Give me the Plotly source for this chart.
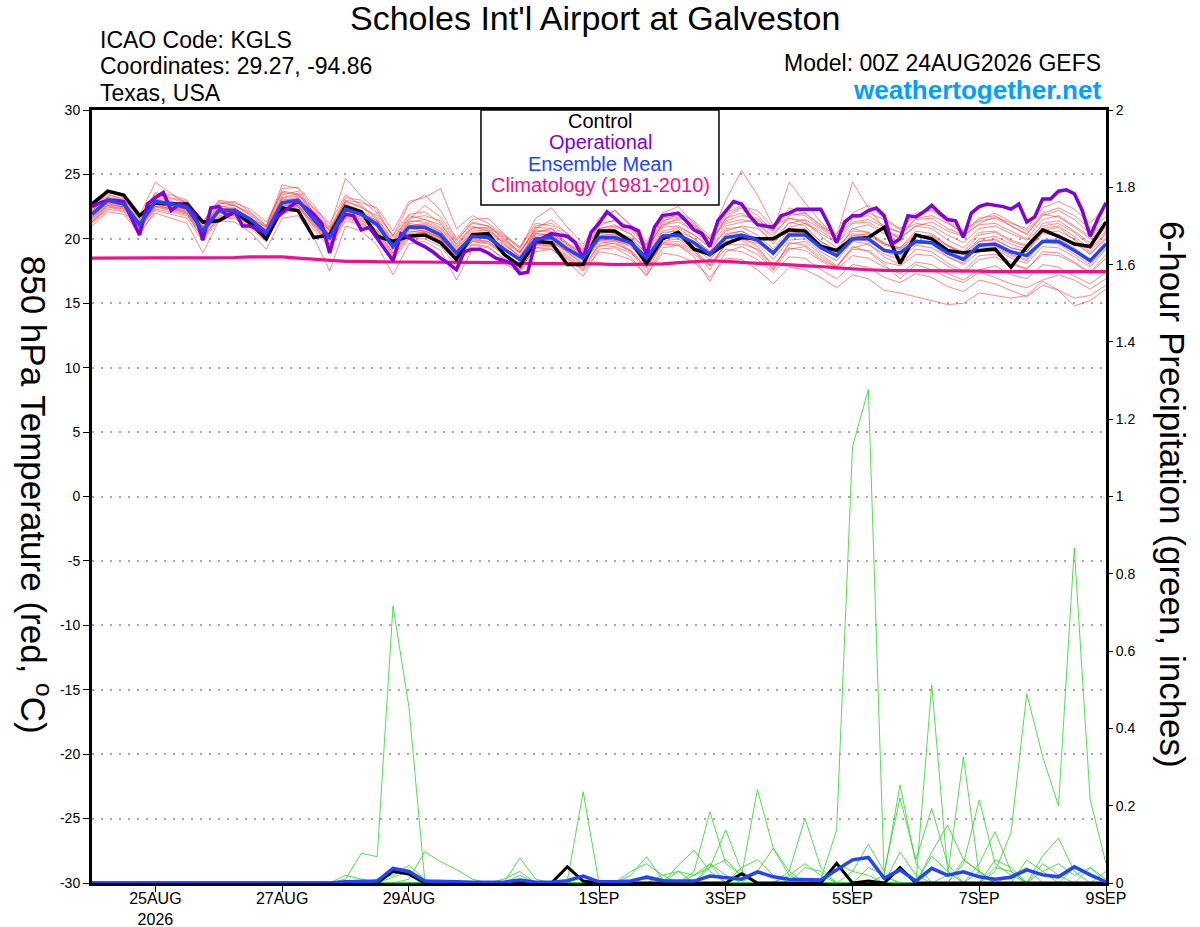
import pandas as pd
import plotly.graph_objects as go

# GEFS run 00Z 24AUG2026, 6-hourly steps (ensemble) and 3-hourly (operational)
steps6 = pd.date_range("2026-08-24 00:00", periods=65, freq="6h")
steps3 = pd.date_range("2026-08-24 00:00", periods=129, freq="3h")

tick_dates = ["2026-08-25", "2026-08-27", "2026-08-29", "2026-09-01",
              "2026-09-03", "2026-09-05", "2026-09-07", "2026-09-09"]
tick_names = ["25AUG<br>2026", "27AUG", "29AUG", "1SEP", "3SEP", "5SEP", "7SEP", "9SEP"]

# 850 hPa temperature (C)
control_t = [22.7, 23.7, 23.4, 21.8, 22.8, 22.7, 22.7, 21.3, 21.4, 22.1, 21.2, 20.0, 22.4,
             22.2, 20.1, 20.3, 22.5, 22.1, 20.2, 19.8, 20.2, 20.3, 19.7, 18.4, 20.3, 20.4,
             18.8, 17.9, 19.8, 19.7, 18.0, 18.0, 20.6, 20.6, 19.8, 18.1, 20.0, 20.5, 19.2,
             18.8, 19.6, 20.1, 20.0, 20.0, 20.7, 20.6, 19.4, 19.1, 20.0, 20.1, 20.9, 18.1,
             20.3, 20.0, 19.1, 18.9, 19.1, 19.2, 17.8, 19.4, 20.7, 20.2, 19.6, 19.4, 21.3]
mean_t = [21.9, 23.0, 22.7, 21.1, 22.9, 22.7, 22.4, 20.6, 22.2, 22.2, 21.5, 20.5, 22.8,
          23.0, 21.5, 20.1, 22.3, 21.9, 21.1, 19.4, 20.9, 20.9, 20.3, 18.9, 20.2, 20.1,
          19.2, 18.4, 20.0, 20.1, 19.2, 18.5, 20.1, 20.1, 19.7, 18.5, 20.2, 20.3, 19.7,
          18.8, 20.1, 20.3, 19.9, 18.9, 20.3, 20.3, 19.3, 18.7, 20.0, 20.0, 19.1, 18.9,
          19.8, 19.7, 18.9, 18.4, 19.5, 19.6, 19.0, 18.7, 19.8, 19.8, 19.1, 18.3, 19.6]
clim_t = [18.5, 18.5, 18.5, 18.5, 18.5, 18.5, 18.55, 18.55, 18.55, 18.55, 18.6, 18.6, 18.6,
          18.5, 18.4, 18.3, 18.25, 18.25, 18.2, 18.2, 18.2, 18.2, 18.2, 18.2, 18.15, 18.15,
          18.15, 18.1, 18.1, 18.1, 18.1, 18.05, 18.05, 18.0, 18.0, 18.0, 18.05, 18.15, 18.25,
          18.3, 18.25, 18.15, 18.1, 18.05, 18.0, 17.9, 17.85, 17.75, 17.65, 17.6, 17.55, 17.55,
          17.5, 17.5, 17.5, 17.5, 17.5, 17.45, 17.45, 17.45, 17.45, 17.45, 17.45, 17.45, 17.45]
oper_t = [22.5, 22.8, 23.0, 23.0, 22.9, 21.6, 20.3, 22.7, 23.2, 23.6,
          22.2, 22.7, 22.5, 21.9, 19.9, 22.4, 22.5, 21.8, 22.2, 21.0,
          21.0, 20.7, 20.4, 21.5, 22.0, 22.5, 22.9, 22.4, 21.9, 21.2,
          18.9, 21.1, 21.9, 21.8, 20.7, 20.9, 20.0, 19.2, 18.3, 20.4,
          20.1, 19.7, 19.4, 19.0, 18.5, 18.1, 17.6, 19.0, 19.2, 19.2,
          18.9, 18.5, 18.3, 18.1, 17.3, 17.4, 19.8, 20.1, 20.4, 20.3,
          20.2, 19.7, 18.5, 20.5, 21.2, 22.1, 21.6, 21.0, 20.9, 20.6,
          18.7, 20.9, 21.8, 21.9, 22.0, 21.4, 20.7, 20.4, 19.4, 21.4,
          22.2, 22.9, 22.7, 21.8, 21.1, 21.0, 20.9, 21.8, 22.0, 22.3,
          22.3, 22.3, 22.3, 21.1, 19.7, 21.3, 21.8, 21.8, 22.2, 22.4,
          21.8, 19.6, 20.0, 21.8, 21.7, 22.1, 22.6, 22.0, 21.5, 21.4,
          20.1, 22.0, 22.5, 22.7, 22.6, 22.5, 22.3, 22.7, 21.3, 21.7,
          23.1, 23.1, 23.7, 23.8, 23.5, 22.2, 20.2, 21.6, 22.8]

member_t01 = [22.3, 23.4, 23.1, 21.6, 23.6, 23.2, 22.9, 21.4, 22.9, 22.6, 21.9, 20.9, 23.7, 23.5, 22.4, 21.2,
              23.4, 22.6, 21.6, 19.9, 21.8, 21.5, 21.1, 19.6, 21.0, 20.6, 19.8, 18.9, 20.9, 20.8, 19.6, 18.8,
              20.6, 20.9, 20.4, 19.1, 21.2, 21.5, 20.6, 19.5, 21.6, 22.4, 21.0, 19.6, 21.3, 21.0, 19.8, 19.0,
              20.8, 20.5, 19.6, 19.3, 20.6, 20.4, 19.5, 19.0, 20.3, 20.5, 19.8, 19.4, 20.8, 21.0, 20.2, 19.2, 20.5]
member_t02 = [21.3, 22.5, 22.2, 20.7, 22.3, 22.1, 21.8, 20.1, 21.6, 21.7, 20.9, 20.0, 22.2, 22.5, 20.9, 19.6,
              21.6, 21.2, 20.5, 18.7, 20.3, 20.2, 19.6, 18.2, 19.5, 19.3, 18.5, 17.6, 19.3, 19.2, 18.4, 17.5,
              19.0, 18.8, 18.4, 17.2, 18.9, 18.7, 18.2, 17.0, 18.5, 18.4, 17.6, 16.5, 17.8, 17.6, 17.0, 16.2,
              17.2, 16.9, 16.0, 15.8, 15.5, 15.2, 14.9, 15.0, 15.8, 15.6, 15.4, 15.6, 16.7, 16.0, 14.8, 15.2, 16.1]
member_t03 = [21.6, 22.8, 22.4, 20.8, 22.6, 22.3, 22.0, 20.3, 22.0, 21.8, 21.0, 20.1, 22.4, 22.6, 21.2, 19.8,
              21.9, 21.5, 20.6, 18.9, 20.4, 20.5, 19.8, 18.4, 19.8, 19.6, 18.8, 17.9, 19.5, 19.6, 18.7, 17.9,
              19.5, 19.4, 18.9, 17.8, 19.6, 19.5, 18.8, 17.9, 19.2, 19.0, 18.4, 17.4, 18.6, 18.5, 17.6, 16.9,
              18.0, 17.8, 17.0, 16.6, 17.3, 17.0, 16.3, 15.9, 16.8, 16.5, 16.0, 15.5, 16.4, 16.0, 15.4, 15.6, 16.4]
member_t04 = [22.0, 23.1, 22.9, 21.3, 23.1, 22.9, 22.5, 20.8, 22.3, 22.4, 21.6, 20.7, 23.0, 23.2, 21.8, 20.4,
              22.7, 22.2, 21.4, 19.7, 21.4, 21.3, 20.8, 19.3, 20.6, 20.7, 19.9, 19.0, 20.5, 20.8, 20.0, 19.1,
              20.8, 21.0, 20.6, 19.4, 21.0, 21.6, 21.2, 20.0, 23.0, 25.3, 23.4, 21.0, 21.6, 21.4, 20.2, 19.3,
              20.6, 20.5, 19.7, 19.1, 20.2, 20.3, 19.5, 18.8, 20.0, 20.2, 19.6, 19.2, 20.5, 20.6, 20.0, 19.0, 20.4]
member_t05 = [22.2, 23.3, 22.8, 21.0, 23.0, 22.6, 22.6, 20.9, 22.6, 22.3, 21.3, 20.3, 23.2, 23.3, 22.0, 20.6,
              22.9, 22.4, 21.8, 20.3, 21.9, 22.1, 21.2, 19.5, 20.9, 20.8, 19.6, 18.6, 20.4, 20.3, 19.4, 18.7,
              20.7, 20.4, 20.0, 18.9, 20.9, 21.0, 20.3, 19.4, 21.0, 21.3, 21.5, 20.6, 24.4, 22.8, 21.3, 20.2,
              24.4, 22.4, 20.8, 20.0, 21.0, 20.8, 19.9, 19.3, 20.5, 20.6, 19.9, 19.5, 21.2, 21.4, 20.6, 19.7, 20.8]
member_t06 = [21.8, 22.9, 22.6, 21.0, 22.8, 22.4, 22.3, 20.5, 22.0, 22.1, 21.5, 20.4, 22.8, 22.9, 21.3, 19.9,
              22.2, 21.8, 21.0, 19.3, 21.0, 21.2, 20.6, 19.2, 20.5, 20.4, 19.5, 18.7, 20.2, 20.4, 19.6, 18.8,
              20.4, 20.5, 20.1, 18.9, 20.6, 20.9, 20.3, 19.3, 20.6, 21.0, 20.8, 19.8, 20.9, 21.2, 20.4, 19.7,
              20.8, 21.1, 20.4, 20.1, 21.0, 21.3, 20.6, 20.2, 21.2, 21.7, 21.2, 20.8, 22.4, 22.9, 22.3, 21.2, 22.6]
member_t07 = [22.5, 23.6, 23.3, 21.8, 24.4, 23.5, 22.7, 20.9, 22.7, 22.9, 22.1, 21.0, 23.9, 24.0, 22.6, 20.9,
              24.7, 23.3, 22.2, 20.1, 21.6, 21.8, 21.4, 19.8, 21.3, 21.0, 20.2, 19.3, 21.0, 21.2, 20.4, 19.4,
              21.2, 21.4, 20.8, 19.6, 21.4, 21.7, 21.0, 19.9, 21.2, 21.5, 21.2, 20.2, 21.8, 22.0, 21.1, 20.2,
              21.3, 21.5, 20.9, 20.5, 21.5, 21.6, 20.8, 20.3, 21.1, 21.2, 20.6, 20.0, 21.5, 21.8, 21.0, 20.2, 21.2]
member_t08 = [21.2, 22.3, 22.1, 20.5, 22.0, 21.6, 21.2, 18.9, 21.4, 21.3, 20.5, 19.2, 21.6, 21.8, 20.1, 17.5,
              21.0, 20.6, 19.5, 17.2, 19.6, 19.8, 19.1, 16.8, 19.2, 19.0, 18.1, 17.4, 19.0, 19.2, 18.2, 17.1,
              19.2, 19.3, 18.6, 17.1, 19.3, 19.5, 18.6, 16.7, 19.0, 19.4, 18.8, 17.6, 19.2, 19.4, 18.4, 17.8,
              19.2, 19.1, 18.2, 17.9, 18.8, 18.7, 17.9, 17.3, 18.4, 18.6, 18.0, 17.7, 18.8, 18.7, 18.1, 17.3, 18.5]
member_t09 = [21.5, 22.7, 22.5, 21.2, 22.5, 22.7, 22.2, 20.6, 22.2, 22.0, 21.4, 20.6, 22.5, 22.8, 21.6, 20.3,
              22.0, 21.7, 21.3, 19.6, 21.1, 20.8, 20.1, 18.7, 20.0, 20.2, 19.4, 18.2, 20.1, 19.9, 19.0, 18.3,
              19.9, 19.8, 19.5, 18.2, 20.0, 20.1, 19.3, 18.4, 19.8, 20.0, 19.6, 18.4, 19.9, 20.0, 19.0, 18.3,
              19.8, 19.6, 18.8, 18.4, 19.5, 19.3, 18.6, 18.0, 19.0, 19.2, 18.5, 18.1, 19.4, 19.3, 18.6, 17.8, 19.2]
member_t10 = [22.1, 23.2, 22.9, 21.4, 23.3, 22.9, 22.4, 20.7, 22.5, 22.6, 21.8, 20.8, 23.4, 23.7, 22.0, 20.6,
              22.9, 22.5, 21.5, 19.8, 21.5, 22.6, 21.7, 19.9, 21.2, 21.0, 20.0, 19.0, 20.7, 20.6, 19.7, 18.9,
              20.8, 21.1, 20.3, 19.2, 21.1, 21.3, 20.6, 19.7, 21.4, 21.8, 21.6, 20.4, 21.6, 21.2, 20.6, 19.8,
              21.2, 21.3, 20.6, 20.2, 21.6, 21.8, 21.2, 20.5, 21.6, 21.8, 21.0, 20.4, 21.8, 22.2, 21.5, 20.4, 21.4]
member_t11 = [21.7, 22.8, 22.6, 21.1, 22.7, 22.5, 22.1, 20.4, 22.1, 21.9, 21.2, 20.2, 22.6, 22.7, 21.2, 19.9,
              22.0, 21.6, 20.9, 19.1, 20.6, 20.5, 19.9, 18.6, 19.9, 19.8, 18.9, 18.0, 19.6, 19.8, 18.9, 18.1,
              19.8, 19.6, 19.1, 17.9, 19.6, 19.6, 19.0, 18.0, 19.5, 19.6, 19.2, 18.0, 19.3, 19.1, 18.3, 17.6,
              18.7, 18.5, 17.8, 17.3, 18.2, 18.0, 17.3, 16.8, 17.6, 17.9, 17.2, 16.9, 18.0, 17.8, 17.1, 16.5, 17.4]
member_t12 = [22.4, 23.5, 23.0, 21.5, 23.4, 23.1, 22.8, 21.2, 22.8, 22.6, 22.0, 21.0, 24.2, 23.9, 22.3, 20.8,
              23.2, 23.0, 22.0, 20.2, 22.7, 23.4, 22.2, 20.0, 21.5, 21.6, 20.4, 19.2, 21.6, 22.4, 20.9, 19.6,
              21.4, 22.2, 21.1, 19.8, 21.6, 21.8, 21.0, 20.0, 22.0, 22.6, 21.8, 20.6, 22.4, 22.0, 21.0, 20.0,
              21.6, 21.8, 21.0, 20.5, 21.2, 21.0, 20.3, 19.7, 20.8, 21.0, 20.4, 19.9, 21.0, 21.2, 20.5, 19.5, 20.6]
member_t13 = [21.0, 22.1, 21.9, 20.4, 22.2, 21.9, 21.6, 19.8, 21.5, 21.6, 20.8, 19.8, 22.0, 22.2, 20.7, 19.3,
              21.4, 21.1, 20.2, 18.4, 20.0, 20.0, 19.4, 17.9, 19.6, 19.4, 18.4, 17.6, 19.3, 19.5, 18.6, 17.7,
              19.6, 19.9, 19.1, 17.7, 19.8, 20.0, 19.2, 17.9, 19.6, 20.1, 19.4, 17.8, 19.6, 19.8, 18.8, 17.9,
              19.3, 19.6, 18.6, 18.0, 19.2, 19.0, 18.1, 17.5, 18.7, 18.8, 18.2, 17.6, 19.0, 18.9, 18.2, 17.4, 18.8]
member_t14 = [22.2, 23.2, 22.6, 21.0, 22.9, 22.8, 22.5, 20.8, 22.4, 22.2, 21.6, 20.5, 22.9, 23.1, 21.7, 20.2,
              22.6, 22.1, 21.2, 19.5, 21.2, 21.0, 20.5, 19.1, 20.4, 20.3, 19.3, 18.5, 20.6, 20.5, 19.5, 18.6,
              20.3, 20.3, 19.9, 18.7, 20.5, 20.6, 20.0, 19.0, 20.8, 20.9, 20.3, 19.2, 20.7, 20.8, 19.8, 19.1,
              20.4, 20.3, 19.5, 19.2, 20.2, 20.2, 19.4, 18.9, 19.8, 20.0, 19.3, 19.0, 20.4, 20.3, 19.7, 18.8, 20.0]
member_t15 = [21.9, 22.9, 22.8, 21.3, 22.9, 22.6, 22.6, 21.0, 22.3, 22.4, 21.6, 20.9, 23.1, 23.0, 21.6, 20.1,
              22.3, 22.0, 21.4, 19.4, 21.3, 21.5, 20.9, 19.4, 20.8, 20.9, 20.1, 18.9, 20.8, 21.5, 20.4, 19.0,
              21.6, 22.2, 21.0, 19.5, 22.0, 22.5, 21.2, 19.8, 21.6, 22.0, 21.2, 20.0, 21.2, 21.5, 20.8, 20.0,
              22.0, 22.6, 21.6, 20.8, 21.8, 22.3, 21.4, 20.6, 21.5, 22.0, 21.3, 20.6, 22.0, 22.4, 21.8, 20.8, 21.7]
member_t16 = [21.4, 22.6, 22.3, 20.9, 22.4, 22.4, 22.0, 20.2, 21.8, 21.9, 21.2, 20.3, 22.4, 22.5, 21.0, 19.5,
              21.8, 21.4, 20.7, 18.9, 20.5, 20.7, 20.0, 18.5, 20.0, 19.8, 18.9, 17.8, 19.8, 19.8, 19.0, 18.0,
              19.9, 20.0, 19.4, 18.1, 20.1, 20.3, 19.6, 18.6, 20.4, 20.6, 19.8, 18.7, 20.6, 20.4, 19.4, 18.6,
              20.0, 19.8, 19.0, 18.6, 19.8, 19.6, 18.6, 18.1, 19.4, 19.3, 18.7, 18.3, 19.8, 19.6, 18.8, 18.0, 19.3]
member_t17 = [22.6, 23.7, 23.2, 21.7, 23.5, 23.4, 23.0, 21.3, 23.0, 22.8, 22.3, 21.3, 23.6, 23.4, 22.1, 20.7,
              23.0, 22.8, 22.4, 20.6, 22.9, 23.2, 23.9, 20.8, 21.8, 21.2, 20.3, 19.4, 21.2, 21.0, 20.2, 19.2,
              21.0, 21.5, 20.9, 19.5, 21.3, 22.0, 21.4, 20.2, 21.8, 22.5, 22.2, 20.9, 22.0, 21.8, 20.9, 20.4,
              21.8, 22.0, 21.5, 20.7, 22.0, 22.2, 21.3, 20.4, 21.4, 21.6, 21.0, 20.3, 21.9, 21.7, 20.9, 20.0, 20.9]
member_t18 = [21.3, 22.4, 22.4, 20.8, 22.5, 22.2, 21.9, 20.0, 21.7, 21.8, 21.1, 20.0, 22.3, 22.6, 21.1, 19.6,
              21.7, 21.3, 20.4, 18.6, 20.2, 20.6, 20.1, 18.4, 19.8, 19.7, 18.8, 17.4, 19.6, 19.4, 18.5, 17.6,
              19.4, 19.7, 19.0, 17.4, 19.7, 19.8, 19.1, 17.6, 19.8, 19.9, 19.1, 17.6, 19.7, 19.5, 18.6, 17.8,
              19.4, 19.0, 18.0, 16.9, 18.0, 17.6, 17.0, 16.6, 17.4, 17.0, 16.5, 16.2, 16.8, 17.2, 16.8, 16.1, 16.9]
member_t19 = [22.0, 23.0, 22.8, 21.2, 23.1, 22.7, 22.4, 20.6, 22.1, 22.3, 21.7, 20.6, 23.2, 23.5, 22.0, 20.3,
              22.5, 22.0, 21.3, 19.6, 21.0, 21.1, 20.6, 19.0, 20.3, 20.5, 19.7, 18.6, 20.4, 20.3, 19.3, 18.6,
              20.2, 20.4, 19.8, 18.6, 20.3, 20.8, 20.0, 19.0, 20.3, 20.6, 20.0, 19.0, 20.4, 20.6, 19.6, 19.0,
              20.2, 20.4, 19.6, 19.3, 20.4, 20.0, 19.0, 18.6, 19.8, 19.9, 19.3, 19.0, 20.6, 20.9, 19.9, 18.8, 20.1]
member_t20 = [21.6, 22.6, 22.5, 20.9, 22.7, 22.3, 22.2, 20.6, 22.0, 22.0, 21.3, 20.4, 22.6, 22.9, 21.4, 20.0,
              22.1, 21.9, 21.0, 19.2, 20.8, 20.6, 20.0, 18.7, 20.1, 20.0, 19.1, 18.3, 19.9, 20.0, 19.2, 18.4,
              20.0, 19.9, 19.6, 18.4, 20.3, 20.2, 19.5, 18.6, 20.2, 20.2, 19.7, 18.8, 20.5, 20.6, 19.4, 18.9,
              20.3, 20.0, 19.2, 19.0, 19.6, 19.7, 18.9, 18.3, 19.6, 19.4, 18.8, 18.4, 19.9, 20.0, 19.3, 18.4, 19.7]

# 6-hour precipitation (inches)
control_p = [0, 0, 0, 0, 0, 0, 0, 0, 0, 0, 0, 0, 0,
             0, 0, 0, 0, 0, 0, 0.03, 0.023, 0, 0, 0, 0, 0,
             0, 0, 0, 0, 0.042, 0.005, 0, 0, 0, 0, 0, 0, 0,
             0, 0, 0.024, 0, 0, 0, 0, 0, 0.051, 0, 0.005, 0, 0.04,
             0, 0, 0, 0, 0, 0, 0, 0, 0, 0, 0, 0, 0]
mean_p = [0, 0, 0, 0, 0, 0, 0, 0, 0, 0, 0, 0, 0,
          0, 0, 0, 0.003, 0.005, 0.005, 0.038, 0.03, 0.005, 0.003, 0.003, 0.002, 0.001,
          0.002, 0.008, 0.002, 0.002, 0.006, 0.018, 0.003, 0.003, 0.005, 0.015, 0.006, 0.005, 0.005,
          0.018, 0.015, 0.01, 0.029, 0.016, 0.01, 0.01, 0.008, 0.034, 0.06, 0.066, 0.012, 0.034,
          0.005, 0.038, 0.02, 0.029, 0.016, 0.01, 0.015, 0.034, 0.021, 0.016, 0.042, 0.021, 0.003]

member_p01 = [0, 0, 0, 0, 0, 0, 0, 0, 0, 0, 0, 0, 0,
              0, 0, 0, 0.01, 0.077, 0.068, 0.717, 0.456, 0.008, 0, 0, 0, 0,
              0, 0, 0, 0, 0, 0, 0, 0, 0, 0.02, 0.01, 0, 0,
              0, 0, 0, 0, 0, 0, 0, 0, 0, 0.03, 0.02, 0, 0,
              0, 0, 0, 0, 0.03, 0, 0, 0, 0, 0, 0, 0, 0]
member_p02 = [0, 0, 0, 0, 0, 0, 0, 0, 0, 0, 0, 0, 0,
              0, 0, 0, 0, 0, 0, 0, 0.01, 0.081, 0.055, 0.035, 0.01, 0,
              0, 0.02, 0, 0, 0, 0, 0, 0, 0, 0, 0, 0, 0,
              0, 0, 0, 0, 0, 0.02, 0.05, 0.02, 0, 0, 0, 0, 0,
              0, 0, 0, 0.06, 0.03, 0, 0, 0, 0, 0, 0, 0, 0]
member_p03 = [0, 0, 0, 0, 0, 0, 0, 0, 0, 0, 0, 0, 0,
              0, 0, 0, 0, 0, 0.01, 0.02, 0.046, 0.01, 0, 0, 0, 0,
              0, 0, 0, 0, 0, 0.02, 0, 0, 0, 0, 0, 0, 0,
              0.05, 0.02, 0, 0, 0, 0, 0, 0, 0, 0, 0, 0, 0,
              0, 0.07, 0.03, 0, 0, 0, 0, 0, 0.05, 0.02, 0, 0, 0]
member_p04 = [0, 0, 0, 0, 0, 0, 0, 0, 0, 0, 0, 0, 0,
              0, 0, 0, 0, 0, 0, 0, 0, 0, 0, 0, 0, 0,
              0, 0, 0, 0, 0.005, 0.236, 0, 0, 0, 0, 0, 0, 0,
              0, 0, 0.04, 0.06, 0.02, 0, 0, 0, 0, 0, 0, 0, 0.08,
              0.02, 0, 0, 0, 0, 0.04, 0.03, 0, 0, 0, 0, 0, 0]
member_p05 = [0, 0, 0, 0, 0, 0, 0, 0, 0, 0, 0, 0, 0,
              0, 0, 0, 0, 0, 0, 0, 0, 0, 0, 0, 0, 0,
              0, 0, 0, 0, 0, 0, 0, 0, 0, 0, 0, 0, 0,
              0, 0, 0, 0, 0, 0, 0, 0.01, 0.137, 1.129, 1.277, 0.016, 0,
              0, 0, 0, 0, 0, 0, 0.02, 0.04, 0, 0, 0, 0, 0]
member_p06 = [0, 0, 0, 0, 0, 0, 0, 0, 0, 0, 0, 0, 0,
              0, 0, 0, 0, 0, 0, 0, 0, 0, 0, 0, 0, 0,
              0, 0, 0, 0, 0, 0, 0, 0, 0, 0, 0, 0, 0.02,
              0.05, 0, 0, 0, 0, 0, 0, 0, 0, 0, 0, 0, 0,
              0, 0, 0, 0, 0, 0.03, 0.13, 0.49, 0.327, 0.2, 0.866, 0.215, 0.05]
member_p07 = [0, 0, 0, 0, 0, 0, 0, 0, 0, 0, 0, 0, 0,
              0, 0, 0, 0, 0, 0, 0, 0, 0, 0, 0, 0, 0,
              0, 0, 0, 0, 0, 0, 0, 0, 0.03, 0.05, 0.02, 0, 0,
              0, 0, 0, 0, 0, 0, 0, 0, 0, 0, 0, 0, 0,
              0, 0.512, 0.03, 0, 0, 0, 0, 0, 0, 0, 0.04, 0.02, 0]
member_p08 = [0, 0, 0, 0, 0, 0, 0, 0, 0, 0, 0, 0, 0,
              0, 0, 0, 0, 0, 0, 0, 0, 0, 0, 0, 0, 0,
              0, 0, 0, 0, 0, 0, 0, 0, 0, 0, 0, 0, 0,
              0.04, 0.06, 0.02, 0, 0, 0, 0, 0, 0, 0, 0, 0, 0,
              0, 0, 0.02, 0.327, 0.02, 0, 0, 0, 0.07, 0.116, 0.03, 0, 0]
member_p09 = [0, 0, 0, 0, 0, 0, 0, 0, 0, 0, 0, 0, 0,
              0, 0, 0, 0, 0, 0, 0, 0, 0, 0, 0, 0, 0,
              0, 0, 0, 0, 0, 0, 0, 0, 0, 0, 0.02, 0.03, 0,
              0, 0, 0, 0, 0, 0, 0, 0, 0, 0, 0, 0.02, 0.254,
              0.05, 0, 0, 0.05, 0.215, 0.05, 0.02, 0, 0, 0, 0, 0, 0]
member_p10 = [0, 0, 0, 0, 0, 0, 0, 0, 0, 0, 0, 0, 0,
              0, 0, 0, 0, 0, 0, 0, 0, 0, 0, 0, 0, 0,
              0, 0, 0, 0, 0, 0, 0, 0, 0, 0, 0, 0, 0.03,
              0.184, 0.05, 0.02, 0.242, 0.09, 0.02, 0, 0, 0, 0, 0.04, 0.02, 0,
              0, 0, 0, 0, 0, 0, 0, 0, 0, 0, 0, 0, 0]
member_p11 = [0, 0, 0, 0, 0, 0, 0, 0, 0, 0, 0, 0, 0,
              0, 0, 0, 0, 0, 0, 0, 0, 0, 0, 0, 0, 0,
              0, 0, 0, 0, 0, 0, 0, 0, 0, 0, 0, 0.03, 0.02,
              0.04, 0.137, 0.03, 0, 0, 0.03, 0.167, 0.04, 0, 0, 0, 0, 0,
              0, 0, 0, 0, 0.05, 0.133, 0.03, 0, 0, 0, 0, 0, 0]
member_p12 = [0, 0, 0, 0, 0, 0, 0, 0, 0, 0, 0, 0, 0,
              0, 0, 0, 0, 0, 0, 0, 0, 0, 0, 0, 0, 0,
              0, 0, 0, 0, 0, 0, 0, 0, 0, 0, 0, 0, 0,
              0, 0, 0, 0, 0, 0, 0, 0, 0.05, 0.03, 0.1, 0.03, 0.22,
              0.06, 0.193, 0.05, 0, 0, 0, 0, 0, 0.03, 0.05, 0.02, 0.04, 0]
member_p13 = [0, 0, 0, 0, 0, 0, 0, 0, 0, 0, 0, 0, 0,
              0, 0, 0, 0, 0, 0, 0, 0, 0, 0, 0, 0, 0,
              0, 0.065, 0.01, 0, 0, 0, 0, 0, 0.02, 0.068, 0.01, 0, 0,
              0, 0, 0, 0.03, 0.09, 0.03, 0, 0, 0, 0, 0, 0, 0,
              0, 0.08, 0.15, 0.06, 0.03, 0, 0, 0.06, 0.03, 0, 0, 0, 0.03]
member_p14 = [0, 0, 0, 0, 0, 0, 0, 0, 0, 0, 0, 0, 0,
              0, 0, 0, 0.02, 0.01, 0, 0.015, 0.03, 0, 0, 0, 0, 0,
              0.01, 0.03, 0, 0, 0, 0, 0, 0, 0, 0, 0, 0.046, 0.085,
              0.03, 0, 0, 0, 0, 0, 0.04, 0.03, 0, 0, 0, 0, 0,
              0, 0, 0, 0, 0, 0.06, 0.04, 0, 0, 0, 0, 0.04, 0.01]

temp_members = [member_t01, member_t02, member_t03, member_t04, member_t05, member_t06, member_t07,
                member_t08, member_t09, member_t10, member_t11, member_t12, member_t13, member_t14,
                member_t15, member_t16, member_t17, member_t18, member_t19, member_t20]
precip_members = [member_p01, member_p02, member_p03, member_p04, member_p05, member_p06, member_p07,
                  member_p08, member_p09, member_p10, member_p11, member_p12, member_p13, member_p14]

RED = "rgba(255,45,45,0.62)"
GREEN = "rgba(40,215,40,0.9)"
PURPLE = "#8000dd"
BLUE = "#2244ff"
PINK = "#f0108a"
FONT = "Liberation Sans, Arial, sans-serif"

fig = go.Figure()

for m in temp_members:  # ensemble member temps
    fig.add_trace(go.Scatter(x=steps6, y=m, mode="lines", line=dict(color=RED, width=0.9),
                             hoverinfo="skip", showlegend=False))
for m in precip_members:  # ensemble member precip
    fig.add_trace(go.Scatter(x=steps6, y=m, mode="lines", line=dict(color=GREEN, width=0.9),
                             yaxis="y2", hoverinfo="skip", showlegend=False))

fig.add_trace(go.Scatter(x=steps6, y=clim_t, mode="lines", line=dict(color=PINK, width=3.2),
                         name="Climatology", showlegend=False))
fig.add_trace(go.Scatter(x=steps6, y=control_t, mode="lines", line=dict(color="black", width=3.5),
                         name="Control", showlegend=False))
fig.add_trace(go.Scatter(x=steps3, y=oper_t, mode="lines", line=dict(color=PURPLE, width=3.5),
                         name="Operational", showlegend=False))
fig.add_trace(go.Scatter(x=steps6, y=mean_t, mode="lines", line=dict(color=BLUE, width=3.5),
                         name="Ensemble Mean", showlegend=False))
fig.add_trace(go.Scatter(x=steps6, y=control_p, mode="lines", line=dict(color="black", width=3),
                         yaxis="y2", showlegend=False))
fig.add_trace(go.Scatter(x=steps6, y=mean_p, mode="lines", line=dict(color=BLUE, width=3.5),
                         yaxis="y2", showlegend=False))

left_ticks = list(range(-30, 31, 5))

fig.update_layout(
    template="none",
    width=1200, height=927,
    margin=dict(l=92, r=94, t=110, b=44),
    paper_bgcolor="white", plot_bgcolor="white",
    font=dict(family=FONT, color="black"),
    xaxis=dict(type="date", range=[steps6[0], steps6[-1]],
               tickvals=tick_dates, ticktext=tick_names,
               ticks="outside", ticklen=6, tickwidth=1, tickcolor="black",
               ticklabelstandoff=-7,
               showline=True, linewidth=3, linecolor="black", mirror=True,
               showgrid=False, zeroline=False, tickfont=dict(size=16)),
    yaxis=dict(range=[-30, 30], tickvals=left_ticks, ticktext=[str(v) for v in left_ticks],
               ticks="outside", ticklen=6, tickwidth=1, tickcolor="black",
               showline=True, linewidth=3, linecolor="black", mirror=True,
               showgrid=True, gridcolor="#a8a8a8", griddash="2px,7px", gridwidth=1.5,
               zeroline=False, tickfont=dict(size=14)),
    yaxis2=dict(range=[0, 2], dtick=0.2, overlaying="y", side="right",
                ticks="outside", ticklen=6, tickwidth=1, tickcolor="black",
                showline=False, showgrid=False, zeroline=False, tickfont=dict(size=14)),
)

# legend box
fig.add_shape(type="rect", xref="paper", yref="paper", x0=0.3836, x1=0.6183, y0=0.877, y1=1.0,
              line=dict(color="black", width=1.5), fillcolor="white", layer="above")
legend_items = [("Control", "black"), ("Operational", PURPLE),
                ("Ensemble Mean", BLUE), ("Climatology (1981-2010)", PINK)]
for k, (label, col) in enumerate(legend_items):
    fig.add_annotation(xref="paper", yref="paper", x=0.501, y=0.9858 - k * 0.0276,
                       text=label, showarrow=False, xanchor="center", yanchor="middle",
                       font=dict(size=20, color=col))

# header texts
fig.add_annotation(xref="paper", yref="paper", x=0.496, y=1.119, showarrow=False,
                   text="Scholes Int'l Airport at Galveston", font=dict(size=34),
                   xanchor="center", yanchor="middle")
for k, line in enumerate(["ICAO Code: KGLS", "Coordinates: 29.27, -94.86", "Texas, USA"]):
    fig.add_annotation(xref="paper", yref="paper", x=0.006, y=[1.0905, 1.0569, 1.022][k],
                       showarrow=False, text=line, font=dict(size=23),
                       xanchor="left", yanchor="middle")
fig.add_annotation(xref="paper", yref="paper", x=0.997, y=1.0605, showarrow=False,
                   text="Model: 00Z 24AUG2026 GEFS", font=dict(size=23),
                   xanchor="right", yanchor="middle")
fig.add_annotation(xref="paper", yref="paper", x=0.997, y=1.0262, showarrow=False,
                   text="<b>weathertogether.net</b>", font=dict(size=26, color="#00a0ff"),
                   xanchor="right", yanchor="middle")

# axis titles, both read top to bottom
fig.add_annotation(xref="paper", yref="paper", x=-0.055, y=0.502, showarrow=False,
                   text="850 hPa Temperature (red, <sup>o</sup>C)", textangle=90,
                   font=dict(size=35), xanchor="center", yanchor="middle")
fig.add_annotation(xref="paper", yref="paper", x=1.065, y=0.502, showarrow=False,
                   text="6-hour Precipitation (green, inches)", textangle=90,
                   font=dict(size=35), xanchor="center", yanchor="middle")

# drop the default page margin so the 1200x927 figure fills the window exactly
fig.write_html("out.html", config={"displayModeBar": False},
               post_script="document.body.style.margin='0px';")
